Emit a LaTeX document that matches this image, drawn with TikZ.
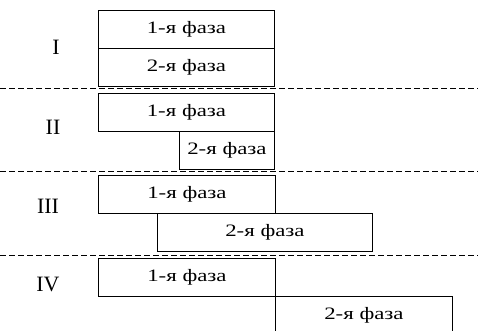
\documentclass[tikz,border=0pt]{standalone}
\usepackage{graphicx}
\usepackage{fontspec}
\setmainfont{Liberation Serif}
% phase caption, set wide as in the printed scheme
\newcommand{\phasetext}[1]{\scalebox{1.31}[1]{#1}}
\begin{document}
\begin{tikzpicture}[x=1bp,y=-1bp,
  phase/.style={draw,line width=0.9bp,inner sep=0pt,anchor=north west,
    minimum height=38bp,font=\fontsize{17.5}{19}\selectfont},
  sep/.style={line width=0.9bp,dash pattern=on 6bp off 3bp},
  stage/.style={font=\fontsize{22}{24}\selectfont}]
\useasboundingbox (0,0) rectangle (478,330);
\clip (0,0) rectangle (478,330);
% stage I: phases one after another in the same interval
\node[phase,minimum width=176bp] (a1) at (98,10) {\phasetext{1-я фаза}};
\node[phase,minimum width=176bp] (a2) at (98,48) {\phasetext{2-я фаза}};
\node[stage] (s1) at (56,47) {I};
\coordinate (d1l) at (0,88); \coordinate (d1r) at (478,88);
\draw[sep] (d1l) -- (d1r);
% stage II
\node[phase,minimum width=176bp] (b1) at (98,93) {\phasetext{1-я фаза}};
\node[phase,minimum width=95bp] (b2) at (179,131) {\phasetext{2-я фаза}};
\node[stage] (s2) at (53,127) {II};
\coordinate (d2l) at (0,171); \coordinate (d2r) at (478,171);
\draw[sep] (d2l) -- (d2r);
% stage III
\node[phase,minimum width=177bp] (c1) at (98,175) {\phasetext{1-я фаза}};
\node[phase,minimum width=215bp] (c2) at (157,213) {\phasetext{2-я фаза}};
\node[stage] (s3) at (48,206) {III};
\coordinate (d3l) at (0,255); \coordinate (d3r) at (478,255);
\draw[sep] (d3l) -- (d3r);
% stage IV
\node[phase,minimum width=177bp] (e1) at (98,258) {\phasetext{1-я фаза}};
\node[phase,minimum width=177bp] (e2) at (275,296) {\phasetext{2-я фаза}};
\node[stage] (s4) at (48,284) {IV};
\end{tikzpicture}
\end{document}
